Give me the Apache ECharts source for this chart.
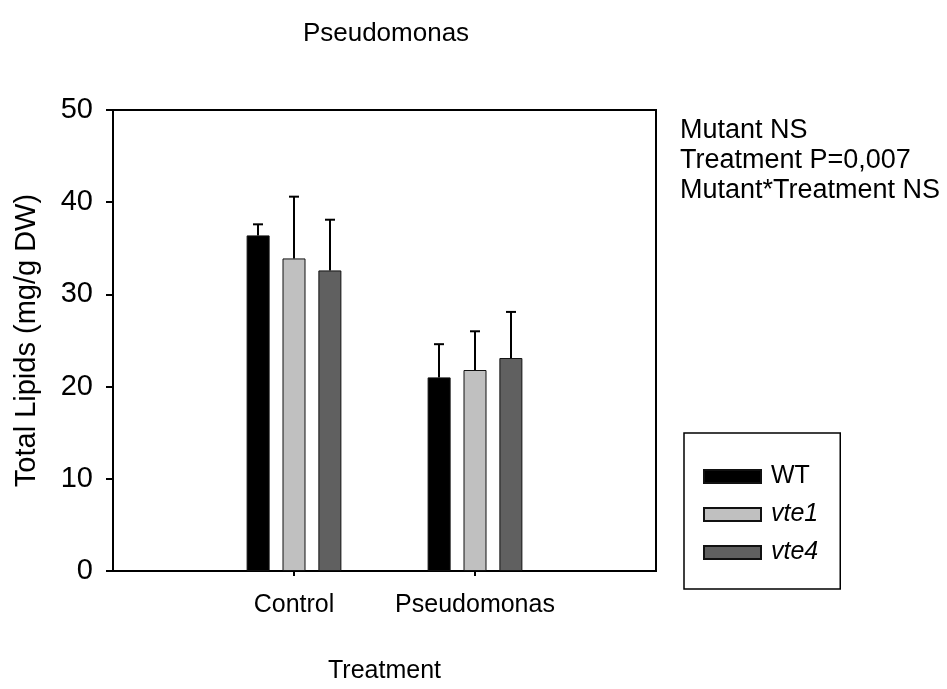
<!DOCTYPE html>
<html>
<head>
<meta charset="utf-8">
<script src="https://cdn.jsdelivr.net/npm/echarts@6/dist/echarts.min.js"></script>
<style>
  html, body { margin: 0; padding: 0; background: #fff; }
  #chart { width: 947px; height: 689px; }
</style>
</head>
<body>
<div id="chart"></div>
<script>
// Treatment groups (padded with empty slots on either side of the axis)
const categories = ['Control', 'Pseudomonas'];
const seriesNames = ['WT', 'vte1', 'vte4'];
// Mean total lipids (mg/g DW) per genotype, in category order
const wtMeans   = [36.4, 21.0];
const vte1Means = [33.9, 21.8];
const vte4Means = [32.6, 23.1];
// Standard errors (upper whisker only)
const wtErr   = [1.2, 3.6];
const vte1Err = [6.7, 4.2];
const vte4Err = [5.5, 5.0];
const yTicks = [0, 10, 20, 30, 40, 50];
const statsLines = ['Mutant NS', 'Treatment P=0,007', 'Mutant*Treatment NS'];

const FONT = "'Liberation Sans', Arial, sans-serif";
const axisCats = [''].concat(categories, ['']);
const pad = arr => [null].concat(arr, [null]);

const colors = ['#000000', '#c0c0c0', '#606060'];
const means = [wtMeans, vte1Means, vte4Means];
const errs = [wtErr, vte1Err, vte4Err];
const BAR_W = 23;
const BAR_GAP = '56%';
const offsets = [-36, 0, 36];

const barSeries = seriesNames.map((name, i) => ({
  name: name,
  type: 'bar',
  barWidth: BAR_W,
  barGap: BAR_GAP,
  data: pad(means[i]),
  itemStyle: { color: colors[i], borderColor: '#111', borderWidth: 1 },
  emphasis: { disabled: true },
  z: 2
}));

const errSeries = seriesNames.map((name, i) => ({
  type: 'custom',
  data: means[i].map((m, k) => [k + 1, m, m + errs[i][k]]),
  z: 5,
  silent: true,
  renderItem: (params, api) => {
    const base = api.coord([api.value(0), api.value(1)]);
    const top = api.coord([api.value(0), api.value(2)]);
    const x = base[0] + offsets[i];
    const cap = 5;
    return {
      type: 'group',
      children: [
        { type: 'line', shape: { x1: x, y1: base[1], x2: x, y2: top[1] },
          style: { stroke: '#000', lineWidth: 2 } },
        { type: 'line', shape: { x1: x - cap, y1: top[1], x2: x + cap, y2: top[1] },
          style: { stroke: '#000', lineWidth: 2 } }
      ]
    };
  }
}));

const chart = echarts.init(document.getElementById('chart'), null, { renderer: 'canvas' });
chart.setOption({
  animation: false,
  backgroundColor: '#fff',
  textStyle: { fontFamily: FONT },
  title: {
    text: 'Pseudomonas',
    left: 381,
    textAlign: 'center',
    top: 16,
    textStyle: { fontFamily: FONT, fontSize: 26, fontWeight: 'normal', color: '#000' }
  },
  grid: {
    left: 113, right: 291, top: 110, bottom: 118,
    outerBoundsMode: 'none',
    containLabel: false,
    show: true, borderColor: '#000', borderWidth: 2, backgroundColor: 'transparent'
  },
  legend: {
    orient: 'vertical',
    left: 684,
    top: 433,
    data: seriesNames,
    icon: 'rect',
    itemWidth: 57,
    itemHeight: 13,
    itemGap: 13,
    padding: [31, 22, 24, 19],
    borderColor: '#000',
    borderWidth: 1.5,
    selectedMode: false,
    formatter: n => n === 'WT' ? '{n|' + n + '}' : '{i|' + n + '}',
    textStyle: {
      fontFamily: FONT, fontSize: 25, color: '#000',
      rich: {
        n: { fontFamily: FONT, fontSize: 25, color: '#000', padding: [0, 0, 0, 5] },
        i: { fontFamily: FONT, fontSize: 25, fontStyle: 'italic', color: '#000', padding: [0, 0, 0, 5] }
      }
    }
  },
  xAxis: {
    type: 'category',
    data: axisCats,
    boundaryGap: false,
    name: 'Treatment',
    nameLocation: 'middle',
    nameGap: 88,
    nameTextStyle: { fontFamily: FONT, fontSize: 25, color: '#000' },
    axisLine: { lineStyle: { color: '#000', width: 2 } },
    axisTick: { length: 5, lineStyle: { color: '#000', width: 2 },
                interval: (idx, val) => val !== '' },
    axisLabel: { fontFamily: FONT, fontSize: 25, color: '#000', margin: 22,
                 interval: 0 },
    splitLine: { show: false }
  },
  yAxis: {
    type: 'value',
    min: yTicks[0],
    max: yTicks[yTicks.length - 1],
    interval: yTicks[1] - yTicks[0],
    name: 'Total Lipids (mg/g DW)',
    nameLocation: 'middle',
    nameGap: 72,
    nameRotate: 90,
    nameTextStyle: { fontFamily: FONT, fontSize: 29, color: '#000' },
    axisLine: { show: true, lineStyle: { color: '#000', width: 2 } },
    axisTick: { show: true, length: 7, lineStyle: { color: '#000', width: 2 } },
    axisLabel: { fontFamily: FONT, fontSize: 29, color: '#000', margin: 20 },
    splitLine: { show: false }
  },
  graphic: [{
    type: 'text',
    left: 680,
    top: 116,
    style: {
      text: statsLines.join('\n'),
      fontFamily: FONT,
      fontSize: 27,
      lineHeight: 30,
      fill: '#000'
    }
  }],
  series: barSeries.concat(errSeries)
});
</script>
</body>
</html>
